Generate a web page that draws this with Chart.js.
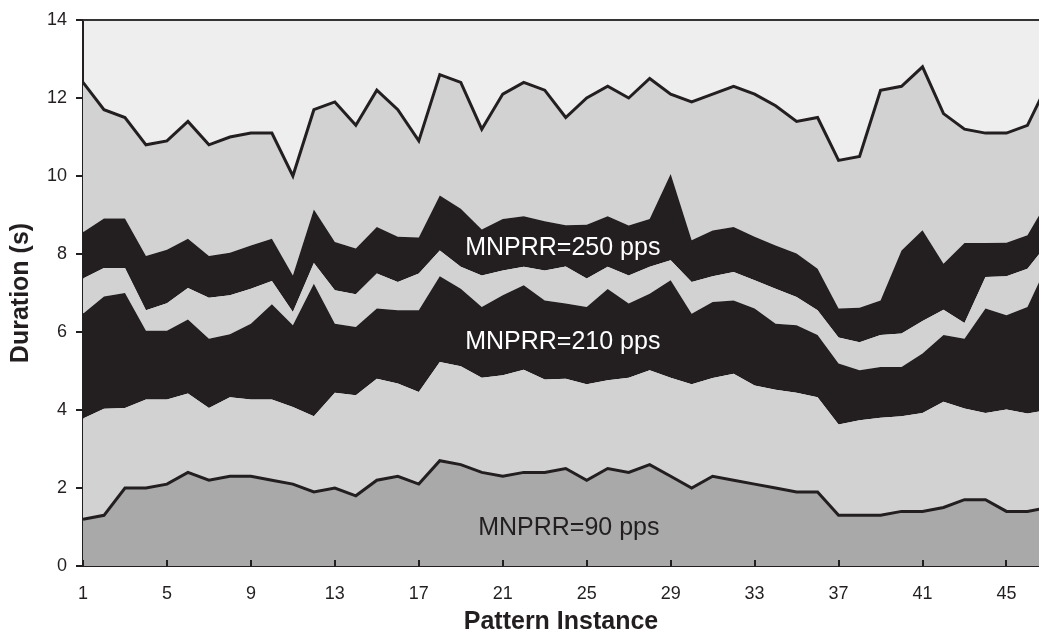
<!DOCTYPE html>
<html><head><meta charset="utf-8">
<script src="https://cdn.jsdelivr.net/npm/chart.js@4.4.0/dist/chart.umd.min.js"></script>
<style>html,body{margin:0;padding:0;background:#fff;overflow:hidden}</style>
</head><body>
<canvas id="c" width="1039" height="641" style="width:1039px;height:641px;display:block"></canvas>
<script>
const patternInstances = [1,2,3,4,5,6,7,8,9,10,11,12,13,14,15,16,17,18,19,20,21,22,23,24,25,26,27,28,29,30,31,32,33,34,35,36,37,38,39,40,41,42,43,44,45,46,47];
const xTickValues = [1,5,9,13,17,21,25,29,33,37,41,45];
const yTickValues = [0,2,4,6,8,10,12,14];

// boundary lines of the stacked layers (cumulative duration, s)
const mnprr90Top = [1.2,1.3,2.0,2.0,2.1,2.4,2.2,2.3,2.3,2.2,2.1,1.9,2.0,1.8,2.2,2.3,2.1,2.7,2.6,2.4,2.3,2.4,2.4,2.5,2.2,2.5,2.4,2.6,2.3,2.0,2.3,2.2,2.1,2.0,1.9,1.9,1.3,1.3,1.3,1.4,1.4,1.5,1.7,1.7,1.4,1.4,1.5];
const band210Bottom = [3.78,4.03,4.05,4.27,4.27,4.42,4.05,4.33,4.27,4.27,4.08,3.84,4.44,4.38,4.8,4.68,4.46,5.23,5.12,4.83,4.89,5.03,4.78,4.8,4.66,4.76,4.83,5.02,4.83,4.66,4.82,4.93,4.63,4.52,4.44,4.33,3.63,3.74,3.8,3.84,3.92,4.21,4.04,3.92,4.01,3.91,4.0];
const band210Top = [6.47,6.91,7.0,6.03,6.03,6.32,5.83,5.94,6.21,6.71,6.17,7.24,6.21,6.13,6.6,6.56,6.56,7.43,7.11,6.64,6.94,7.2,6.81,6.73,6.64,7.1,6.73,6.98,7.33,6.47,6.77,6.81,6.6,6.21,6.17,5.92,5.19,5.02,5.1,5.1,5.45,5.92,5.83,6.6,6.43,6.64,7.8];
const band250Bottom = [7.37,7.64,7.64,6.56,6.74,7.13,6.88,6.94,7.11,7.31,6.51,7.77,7.07,6.97,7.5,7.28,7.5,8.09,7.67,7.45,7.58,7.67,7.58,7.68,7.37,7.67,7.45,7.67,7.84,7.28,7.43,7.54,7.33,7.11,6.9,6.56,5.86,5.74,5.92,5.96,6.28,6.57,6.23,7.41,7.43,7.62,8.3];
const band250Top = [8.56,8.91,8.91,7.95,8.11,8.39,7.95,8.03,8.22,8.39,7.45,9.14,8.31,8.14,8.69,8.44,8.42,9.5,9.16,8.63,8.9,8.97,8.84,8.74,8.75,8.97,8.73,8.9,10.05,8.35,8.6,8.69,8.44,8.22,8.01,7.62,6.6,6.62,6.81,8.09,8.61,7.75,8.28,8.28,8.29,8.48,9.4];
const totalTop = [12.4,11.7,11.5,10.8,10.9,11.4,10.8,11.0,11.1,11.1,10.0,11.7,11.9,11.3,12.2,11.7,10.9,12.6,12.4,11.2,12.1,12.4,12.2,11.5,12.0,12.3,12.0,12.5,12.1,11.9,12.1,12.3,12.1,11.8,11.4,11.5,10.4,10.5,12.2,12.3,12.8,11.6,11.2,11.1,11.1,11.3,12.4];

const labelTexts = ['MNPRR=250 pps','MNPRR=210 pps','MNPRR=90 pps'];

const FONT = '"Liberation Sans", Arial, Helvetica, sans-serif';
const INK = '#231f20';
const LIGHT = '#d2d2d2';
const MID = '#a9a9a9';
const PALE = '#eeeeee';

const pts = arr => patternInstances.map((x, i) => ({x, y: arr[i]}));

const annotationStyle = [
  {x: 19.21, y: 8.15, color: '#ffffff'},
  {x: 19.21, y: 5.74, color: '#ffffff'},
  {x: 19.83, y: 0.97, color: INK}
];

const decor = {
  id: 'decor',
  beforeDraw(chart) {
    const {ctx, chartArea: a} = chart;
    ctx.save();
    ctx.fillStyle = PALE;
    ctx.fillRect(a.left, a.top, a.right - a.left, a.bottom - a.top);
    ctx.restore();
  },
  afterDatasetsDraw(chart) {
    const {ctx, chartArea: a, scales} = chart;
    ctx.save();
    ctx.strokeStyle = '#333';
    ctx.lineWidth = 2;
    ctx.beginPath(); ctx.moveTo(a.left, a.top); ctx.lineTo(a.right, a.top); ctx.stroke();
    ctx.strokeStyle = INK; ctx.lineWidth = 2;
    xTickValues.forEach(v => {
      const px = Math.round(scales.x.getPixelForValue(v));
      ctx.beginPath(); ctx.moveTo(px, a.bottom); ctx.lineTo(px, a.bottom - 6); ctx.stroke();
    });
    ctx.font = '25px ' + FONT;
    ctx.textAlign = 'left'; ctx.textBaseline = 'middle';
    labelTexts.forEach((t, i) => {
      const s = annotationStyle[i];
      ctx.fillStyle = s.color;
      ctx.fillText(t, scales.x.getPixelForValue(s.x), scales.y.getPixelForValue(s.y));
    });
    ctx.restore();
  }
};

const base = {pointRadius: 0, tension: 0, borderWidth: 0, borderColor: 'rgba(0,0,0,0)'};

new Chart(document.getElementById('c'), {
  type: 'line',
  data: {
    datasets: [
      {...base, label: 'MNPRR=90 pps', data: pts(mnprr90Top), fill: 'origin', backgroundColor: MID, borderColor: INK, borderWidth: 3},
      {...base, label: 'gap 1', data: pts(band210Bottom), fill: '-1', backgroundColor: LIGHT},
      {...base, label: 'MNPRR=210 pps', data: pts(band210Top), fill: '-1', backgroundColor: INK},
      {...base, label: 'gap 2', data: pts(band250Bottom), fill: '-1', backgroundColor: LIGHT},
      {...base, label: 'MNPRR=250 pps', data: pts(band250Top), fill: '-1', backgroundColor: INK},
      {...base, label: 'total', data: pts(totalTop), fill: '-1', backgroundColor: LIGHT, borderColor: INK, borderWidth: 3}
    ]
  },
  options: {
    responsive: false,
    animation: false,
    devicePixelRatio: 1,
    layout: {padding: {top: 20, right: 0, left: 0, bottom: 0}},
    plugins: {legend: {display: false}, tooltip: {enabled: false}},
    scales: {
      x: {
        type: 'linear', min: 1, max: 46.55, z: 1,
        afterBuildTicks: ax => { ax.ticks = xTickValues.map(v => ({value: v})); },
        afterFit: ax => { ax.height = 75; },
        grid: {display: false},
        border: {display: true, color: INK, width: 2},
        ticks: {color: INK, font: {family: FONT, size: 18}, padding: 9, maxRotation: 0, autoSkip: false},
        title: {display: true, text: 'Pattern Instance', color: INK, font: {family: FONT, size: 25, weight: 'bold'}, padding: {top: 0, bottom: 4}}
      },
      y: {
        type: 'linear', min: 0, max: 14, z: 1,
        afterBuildTicks: ax => { ax.ticks = yTickValues.map(v => ({value: v})); },
        afterFit: ax => { ax.width = 83; },
        grid: {display: true, drawOnChartArea: false, drawTicks: true, tickLength: 7, color: INK, lineWidth: 2},
        border: {display: true, color: INK, width: 2},
        ticks: {color: INK, font: {family: FONT, size: 18}, padding: 9},
        title: {display: true, text: 'Duration (s)', color: INK, font: {family: FONT, size: 25, weight: 'bold'}, padding: {top: 6, bottom: 0}}
      }
    }
  },
  plugins: [decor]
});
</script>
</body></html>
